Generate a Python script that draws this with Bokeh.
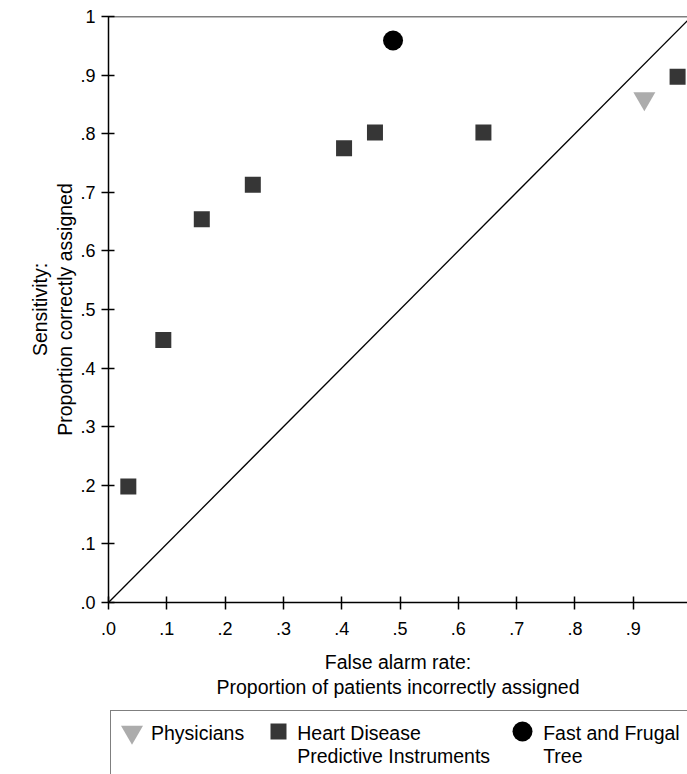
from bokeh.plotting import figure
from bokeh.layouts import column
from bokeh.models import FixedTicker, Span, Legend, LegendItem, Range1d
from bokeh.embed import file_html
from bokeh.resources import INLINE

# ---------------- data ----------------
physicians_x = [0.919]
physicians_y = [0.860]
instruments_x = [0.034, 0.094, 0.160, 0.2475, 0.404, 0.457, 0.643, 0.976]
instruments_y = [0.198, 0.448, 0.654, 0.713, 0.775, 0.802, 0.802, 0.897]
tree_x = [0.488]
tree_y = [0.959]
diagonal_x = [0.0, 1.0]
diagonal_y = [0.0, 1.0]

x_ticks = [0.0, 0.1, 0.2, 0.3, 0.4, 0.5, 0.6, 0.7, 0.8, 0.9]
x_tick_labels = [".0", ".1", ".2", ".3", ".4", ".5", ".6", ".7", ".8", ".9"]
y_ticks = [0.0, 0.1, 0.2, 0.3, 0.4, 0.5, 0.6, 0.7, 0.8, 0.9, 1.0]
y_tick_labels = [".0", ".1", ".2", ".3", ".4", ".5", ".6", ".7", ".8", ".9", "1"]

series_labels = ["Physicians", "Heart Disease\nPredictive Instruments", "Fast and Frugal\nTree"]
x_title = "False alarm rate:\nProportion of patients incorrectly assigned"
y_title = "Sensitivity:\nProportion correctly assigned"

x_min, x_max = 0.0, 0.993
y_min, y_max = 0.0, 1.0

# ---------------- styles ----------------
FONT = "Liberation Sans"
W = 687
MAIN_H = 708
LEG_H = 66
SQ_COLOR = "#363636"
TRI_COLOR = "#acacac"
CIRC_COLOR = "black"

# ---------------- main figure ----------------
p = figure(width=W, height=MAIN_H, x_range=Range1d(x_min, x_max), y_range=Range1d(y_min, y_max),
           output_backend="svg", toolbar_location=None,
           min_border_left=108, min_border_right=0, min_border_top=16, min_border_bottom=MAIN_H - 16 - 586)
p.xgrid.visible = False
p.ygrid.visible = False
p.outline_line_color = None
p.background_fill_color = "white"
p.border_fill_color = "white"

for ax in (p.xaxis[0], p.yaxis[0]):
    ax.axis_line_color = "black"
    ax.axis_line_width = 1.5
    ax.major_tick_line_color = "black"
    ax.major_tick_line_width = 1.5
    ax.major_tick_in = 6
    ax.major_tick_out = 7
    ax.minor_tick_line_color = None
    ax.major_label_text_font = FONT
    ax.major_label_text_font_size = "18px"
    ax.major_label_text_color = "black"
    ax.axis_label_text_font = FONT
    ax.axis_label_text_font_size = "19.5px"
    ax.axis_label_text_font_style = "normal"
    ax.axis_label_text_color = "black"
    ax.axis_label_text_line_height = 1.15

xa = p.xaxis[0]
xa.ticker = FixedTicker(ticks=x_ticks)
xa.major_label_overrides = dict(zip(x_ticks, x_tick_labels))
xa.major_label_standoff = 12
xa.axis_label = x_title
xa.axis_label_standoff = 13

ya = p.yaxis[0]
ya.ticker = FixedTicker(ticks=y_ticks)
ya.major_label_overrides = dict(zip(y_ticks, y_tick_labels))
ya.major_label_standoff = 6
ya.axis_label = y_title
ya.axis_label_standoff = 1

p.add_layout(Span(location=y_max, dimension="width", line_color="black", line_width=1.5))

p.line(diagonal_x, diagonal_y, line_color="black", line_width=1.3)
p.scatter(physicians_x, physicians_y, marker="inverted_triangle", size=22,
          fill_color=TRI_COLOR, line_color=None)
p.scatter(instruments_x, instruments_y, marker="square", size=16,
          fill_color=SQ_COLOR, line_color=None)
p.scatter(tree_x, tree_y, marker="circle", size=20, fill_color=CIRC_COLOR, line_color=None)

# ---------------- legend strip (frame aligned with the main frame) ----------------
leg = figure(width=W, height=LEG_H, x_range=Range1d(0, 1), y_range=Range1d(0, 1),
             output_backend="svg", toolbar_location=None,
             x_axis_location=None, y_axis_location=None,
             min_border_left=0, min_border_right=0, min_border_top=0, min_border_bottom=0)
leg.xgrid.visible = False
leg.ygrid.visible = False
leg.outline_line_color = None
leg.background_fill_color = "white"
leg.border_fill_color = "white"

l_phys = leg.scatter(physicians_x, physicians_y, marker="inverted_triangle", size=22,
                     fill_color=TRI_COLOR, line_color=None, visible=False)
l_inst = leg.scatter(instruments_x, instruments_y, marker="square", size=16,
                     fill_color=SQ_COLOR, line_color=None, visible=False)
l_tree = leg.scatter(tree_x, tree_y, marker="circle", size=20,
                     fill_color=CIRC_COLOR, line_color=None, visible=False)
ghost = leg.scatter(tree_x, tree_y, size=0, fill_alpha=0, line_alpha=0, visible=False)

legend_texts = [lbl if "\n" in lbl else lbl + "\n " for lbl in series_labels]
text_legend = Legend(items=[LegendItem(label=t, renderers=[ghost]) for t in legend_texts],
                     orientation="horizontal", location=(2, -6), padding=11, spacing=24,
                     glyph_width=20, glyph_height=20, label_standoff=9, margin=0,
                     border_line_color="black", border_line_width=1.5,
                     background_fill_color="white", background_fill_alpha=1.0,
                     label_text_font=FONT, label_text_font_size="19.5px", label_text_color="black",
                     label_text_line_height=1.2)
leg.add_layout(text_legend)

for rend, gw, cx in [(l_phys, 55, 23.7), (l_inst, 40, 170.0), (l_tree, 50, 414.0)]:
    lg = Legend(items=[LegendItem(label=" ", renderers=[rend])],
                location=(cx - gw / 2, 43 - gw / 2),
                padding=0, margin=0, glyph_width=gw, glyph_height=gw, label_standoff=0, label_width=0,
                border_line_color=None, background_fill_alpha=0, label_text_font_size="10px")
    leg.add_layout(lg)

layout = column(p, leg, spacing=0)
open("out.html", "w").write(file_html(layout, INLINE))
